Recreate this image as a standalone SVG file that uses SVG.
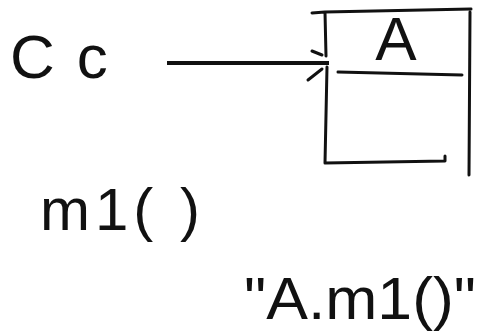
<svg xmlns="http://www.w3.org/2000/svg" width="481" height="335" viewBox="0 0 481 335">
<style>
.hand{fill:#111;font-family:"Liberation Sans",Arial,sans-serif;font-weight:normal}
.stroke{fill:none;stroke:#111;stroke-width:3;stroke-linecap:round;stroke-linejoin:round}
</style>
<rect width="481" height="335" fill="#fff"/>
<g id="node-Cc">
<text class="hand" x="10" y="78" font-size="62" letter-spacing="22">Cc</text>
</g>
<g id="node-A">
<path class="stroke" d="M312 13 L325 12 L471 9 M325 12 L326 56 M327 67 L325 163 L445 161 L445 156 M470 12 L469 175 M338 72 L462 75"/>
<text class="hand" x="396" y="60" font-size="62" text-anchor="middle">A</text>
</g>
<g id="connectors">
<path d="M167 63 L329 63" fill="none" stroke="#111" stroke-width="4"/>
<path class="stroke" d="M312 51 L322 55 M322 69 L308 80"/>
</g>
<g id="label-m1">
<text class="hand" x="40" y="230" font-size="60" textLength="160" lengthAdjust="spacing">m1( )</text>
</g>
<g id="label-Am1">
<text class="hand" x="244" y="319" font-size="60" textLength="232" lengthAdjust="spacingAndGlyphs">"A.m1()"</text>
</g>
</svg>
